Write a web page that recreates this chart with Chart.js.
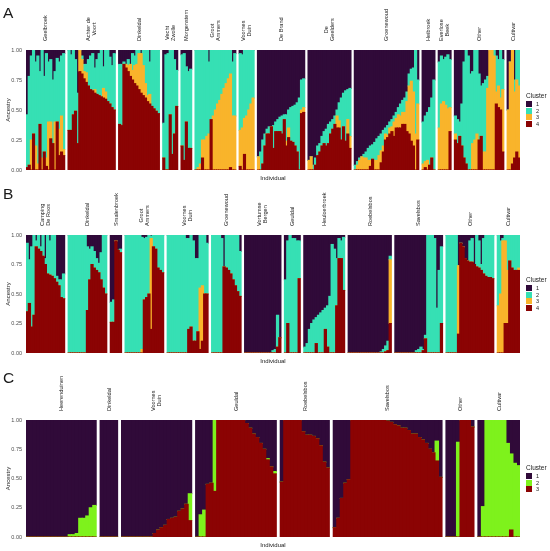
<!DOCTYPE html>
<html>
<head>
<meta charset="utf-8">
<script src="https://cdn.jsdelivr.net/npm/chart.js@4.4.1/dist/chart.umd.min.js"></script>
<style>
  body { margin: 0; background: #fff; }
  #wrap { position: relative; width: 550px; height: 551px; overflow: hidden; font-family: 'Liberation Sans', Arial, sans-serif; color: #1a1a1a; }
  canvas { position: absolute; left: 0; }
  .letter { position: absolute; left: 3px; font-size: 15.5px; line-height: 16px; }
  .pop { position: absolute; transform: rotate(-90deg); transform-origin: 0 0; white-space: nowrap; text-align: center; font-size: 5.6px; line-height: 6.4px; }
  .xlab { position: absolute; font-size: 6px; transform: translate(-50%, -50%); white-space: nowrap; }
  .legend { position: absolute; left: 526px; font-size: 5.5px; }
  .legend .title { font-size: 6.5px; height: 9px; line-height: 8px; }
  .legend .row { position: relative; height: 6.7px; }
  .legend .key { position: absolute; left: 0; top: 0; width: 6px; height: 6px; }
  .legend .lab { position: absolute; left: 10px; top: 0; line-height: 6px; }
</style>
</head>
<body>
<div id="wrap">
  <canvas id="chartA" width="550" height="185" style="top:0px"></canvas>
  <canvas id="chartB" width="550" height="183" style="top:185px"></canvas>
  <canvas id="chartC" width="550" height="183" style="top:368px"></canvas>
  <div class="letter" style="top:5px">A</div>
  <div class="letter" style="top:186px">B</div>
  <div class="letter" style="top:370px">C</div>
</div>
<script>
// ---- Panel A: K = 4 ----
const popsA = ['Geelbroek', ['Achter de', 'Voort'], 'Dinkeldal', ['Vecht', 'Zwolle'], 'Morgenstern',
  ['Groot', 'Ammers'], ['Voornes', 'Duin'], 'De Brand', ['De', 'Geelders'], 'Groenewoud', 'Heibroek',
  ['Everlose', 'Beek'], 'Other', 'Cultivar'];
const sizesA = [18, 22, 19, 7, 5, 19, 7, 22, 20, 30, 6, 6, 23, 6];

// ancestry (%) per individual, cluster 1 .. 4
const a1 = [
  54,22,5,0,10,5,18,0,22,3,10,8,25,18,7,10,5,3,
  0,4,0,8,36,0,5,12,12,8,5,3,15,8,3,0,14,0,0,6,13,3,
  12,12,10,12,8,12,3,5,0,0,3,0,0,0,10,0,0,0,0,
  61,4,3,0,0,8,17,
  4,3,14,18,16,
  0,0,0,0,0,0,10,0,0,0,0,0,0,0,0,0,0,10,3,
  3,4,0,0,0,0,0,
  89,85,75,70,66,64,64,63,60,58,56,55,54,54,50,48,47,46,44,40,25,24,
  92,89,96,90,80,78,72,68,66,62,60,58,55,50,44,40,36,34,33,32,
  96,93,90,89,87,85,82,80,79,77,74,72,70,67,65,63,60,58,55,52,48,45,42,40,35,20,16,15,0,25,
  60,55,52,48,40,25,
  10,5,8,6,4,8,
  55,58,60,45,10,0,5,20,18,0,0,20,30,28,25,22,0,0,0,5,8,0,8,
  50,10,0,25,0,0
];
const a2 = [
  44,74,70,70,70,90,44,90,63,87,50,52,53,42,53,56,50,80,
  67,63,54,43,42,0,3,6,7,22,28,31,18,29,35,39,18,35,43,39,35,47,
  50,51,2,0,5,0,14,8,12,3,0,13,28,38,27,47,49,51,53,
  29,96,97,54,87,62,30,
  76,89,46,64,66,
  100,98,95,75,75,72,60,58,55,50,45,42,37,32,28,24,20,45,52,
  64,61,57,55,50,45,40,
  0,15,20,10,4,6,0,19,8,10,12,15,4,22,15,28,30,34,41,60,25,24,
  0,0,4,6,8,7,8,10,14,16,10,8,7,5,15,35,28,42,25,40,
  4,3,2,0,3,5,10,12,12,15,18,16,14,13,5,8,5,6,5,5,6,10,10,12,8,10,10,20,70,20,
  35,38,40,48,50,75,
  55,40,35,40,45,40,
  15,20,12,35,80,95,95,80,60,75,70,55,42,57,60,10,0,0,5,30,22,40,25,
  0,0,0,10,25,30
];
const a3 = [
  0,0,25,0,20,5,0,10,0,7,40,14,0,40,0,22,30,5,
  0,0,0,0,0,18,12,6,8,0,0,0,3,0,0,0,8,6,0,0,0,0,
  0,0,0,3,5,10,8,15,18,30,33,25,12,5,8,0,0,0,0,
  0,0,0,0,0,0,0,
  0,0,0,0,0,
  0,2,5,15,25,28,30,0,45,50,55,58,63,68,72,76,78,45,45,
  30,35,30,45,50,55,60,
  11,0,0,0,0,0,0,0,0,0,0,0,0,4,8,0,0,0,0,0,3,4,
  8,11,0,0,0,0,0,0,0,0,0,0,0,10,6,0,0,0,12,10,
  0,4,8,11,10,10,8,5,0,8,8,12,10,5,5,2,5,4,12,8,11,10,10,10,25,40,50,45,30,30,
  5,5,8,0,0,0,
  35,55,57,54,51,20,
  5,0,0,0,0,0,0,0,22,25,30,0,0,15,15,68,100,100,95,10,18,10,52,
  50,90,95,55,60,60
];
const a4 = [
  2,4,0,30,0,0,38,0,15,3,0,26,22,0,40,12,15,12,
  33,33,46,49,22,82,80,76,73,70,67,66,64,63,62,61,60,59,57,55,52,50,
  38,37,88,85,82,78,75,72,70,67,64,62,60,57,55,53,51,49,47,
  10,0,0,46,13,30,53,
  20,8,40,18,18,
  0,0,0,10,0,0,0,42,0,0,0,0,0,0,0,0,2,0,0,
  3,0,13,0,0,0,0,
  0,0,5,20,30,30,36,18,32,32,32,30,42,20,27,24,23,20,15,0,47,48,
  0,0,0,4,12,15,20,22,20,22,30,34,38,35,35,25,36,24,30,18,
  0,0,0,0,0,0,0,3,9,0,0,0,6,15,25,27,30,32,28,35,35,35,38,38,32,30,24,20,0,25,
  0,2,0,4,10,0,
  0,0,0,0,0,32,
  25,22,28,20,10,5,0,0,0,0,0,25,28,0,0,0,0,0,0,55,52,50,15,
  0,0,5,10,15,10
];

// ---- Panel B: K = 4 ----
const popsB = [['Camping', 'De Roos'], 'Dinkeldal', 'Smalenbroek', ['Groot', 'Ammers'], ['Voornes', 'Duin'],
  'Groenewoud', ['Vortumse', 'Bergen'], 'Geuldal', 'Heuloerbroek', 'Roebelsbos', 'Savelsbos', 'Other', 'Cultivar'];
const sizesB = [17, 17, 5, 17, 18, 13, 16, 7, 18, 19, 21, 21, 10];

const b1 = [
  7,21,10,0,5,0,10,0,20,0,5,0,0,35,38,38,33,
  0,0,0,0,0,0,0,0,10,12,10,14,20,24,15,0,0,
  57,55,5,13,12,
  0,0,0,0,0,0,0,2,3,2,0,1,0,0,0,0,0,
  0,0,0,0,0,0,0,0,3,3,0,5,20,20,0,0,0,7,
  0,0,0,0,3,27,0,0,0,0,0,0,14,
  100,100,100,100,100,100,100,100,100,100,100,100,98,97,68,87,
  38,5,0,3,3,5,5,
  95,92,80,75,72,70,68,66,64,62,60,52,8,12,20,3,5,2,
  100,100,100,100,100,100,100,100,100,100,100,100,100,100,99,97,94,90,18,
  100,100,100,100,100,100,100,100,100,98,97,95,97,85,0,0,0,3,62,30,10,
  0,0,0,0,0,26,7,10,20,22,5,3,25,0,5,25,3,0,0,0,0,
  0,5,3,0,0,0,0,0,0,0
];
const b2 = [
  58,37,68,68,5,12,4,18,5,33,29,35,37,5,5,15,21,
  100,100,100,100,100,100,100,100,54,26,15,14,10,8,23,45,50,
  17,19,0,0,3,
  100,100,100,100,100,100,100,95,52,51,50,2,10,12,28,30,32,
  100,100,100,100,100,100,100,100,97,77,78,85,70,62,45,43,50,43,
  100,100,100,100,97,0,28,30,33,38,43,48,38,
  0,0,0,0,0,0,0,0,0,0,0,0,2,3,27,0,
  62,70,100,97,97,95,32,
  5,8,20,25,28,22,32,34,36,18,35,48,92,88,40,17,15,45,
  0,0,0,0,0,0,0,0,0,0,0,0,0,0,1,3,5,8,3,
  0,0,0,0,0,0,0,0,0,2,3,5,1,3,100,100,100,97,38,70,65,
  100,100,100,100,100,0,0,0,0,0,18,20,0,27,23,5,30,35,36,36,37,
  60,45,2,5,30,22,28,30,30,28
];
const b3 = [
  0,0,0,0,0,0,0,0,0,0,0,0,0,0,0,0,0,
  0,0,0,0,0,0,0,0,0,0,0,0,0,0,0,0,0,
  0,0,0,0,0,
  0,0,0,0,0,0,0,3,0,0,0,77,0,0,0,0,0,
  0,0,0,0,0,0,0,0,0,0,0,0,0,0,52,47,0,0,
  0,0,0,0,0,0,0,0,0,0,0,0,0,
  0,0,0,0,0,0,0,0,0,0,0,0,0,0,0,0,
  0,0,0,0,0,0,0,
  0,0,0,0,0,0,0,0,0,0,0,0,0,0,0,0,0,0,
  0,0,0,0,0,0,0,0,0,0,0,0,0,0,0,0,0,0,54,
  0,0,0,0,0,0,0,0,0,0,0,0,0,0,0,0,0,0,0,0,0,
  0,0,0,0,0,58,0,0,0,0,0,0,0,0,0,0,0,0,0,0,0,
  40,50,95,70,45,0,0,0,0,2
];
const b4 = [
  35,42,22,32,90,88,86,82,75,67,66,65,63,60,57,47,46,
  0,0,0,0,0,0,0,0,36,62,75,72,70,68,62,55,50,
  26,26,95,87,85,
  0,0,0,0,0,0,0,0,45,47,50,20,90,88,72,70,68,
  0,0,0,0,0,0,0,0,0,20,22,10,10,18,3,10,50,50,
  0,0,0,0,0,73,72,70,67,62,57,52,48,
  0,0,0,0,0,0,0,0,0,0,0,0,0,0,5,13,
  0,25,0,0,0,0,63,
  0,0,0,0,0,8,0,0,0,20,5,0,0,0,40,80,80,53,
  0,0,0,0,0,0,0,0,0,0,0,0,0,0,0,0,1,2,25,
  0,0,0,0,0,0,0,0,0,0,0,0,2,12,0,0,0,0,0,0,25,
  0,0,0,0,0,16,93,90,80,78,77,77,75,73,72,70,67,65,64,64,63,
  0,0,0,25,25,78,72,70,70,70
];

// ---- Panel C: K = 3 ----
const popsC = ['Heerenduinen', 'Dinkeldal', ['Voornes', 'Duin'], 'Geuldal', 'Roebelsbos', 'Savelsbos', 'Other', 'Cultivar'];
const sizesC = [20, 5, 20, 23, 14, 31, 8, 12];

const c1 = [
  100,100,100,100,100,100,100,100,100,100,100,100,98,98,97,84,84,82,75,73,
  100,100,100,100,100,
  100,100,100,100,100,100,100,100,100,97,94,92,90,85,84,83,78,76,72,63,
  100,81,77,55,54,0,0,0,0,0,0,0,0,0,3,7,12,15,20,25,33,40,44,
  53,0,0,0,0,0,10,13,13,14,16,22,36,41,
  92,84,67,54,51,0,0,0,0,0,0,0,0,0,0,1,2,4,5,7,7,9,12,12,15,17,20,25,28,18,49,
  100,100,100,19,0,0,0,6,
  100,74,0,0,0,0,0,0,20,29,37,39
];
const c2 = [
  0,0,0,0,0,0,0,0,0,0,0,0,2,2,3,16,16,18,25,27,
  0,0,0,0,0,
  0,0,0,0,0,0,0,0,0,0,0,0,0,0,0,0,0,0,0,23,
  0,19,23,0,0,61,0,0,0,0,0,0,0,0,0,0,0,0,0,0,1,0,2,
  0,0,0,0,0,0,0,0,0,0,0,0,0,0,
  0,0,0,0,0,0,0,0,0,0,0,0,0,0,0,0,0,0,0,0,0,0,0,0,0,0,0,0,0,17,0,
  0,0,0,81,0,0,0,0,
  0,26,100,100,100,100,100,100,80,65,63,61
];
const c3 = [
  0,0,0,0,0,0,0,0,0,0,0,0,0,0,0,0,0,0,0,0,
  0,0,0,0,0,
  0,0,0,0,0,0,0,0,0,3,6,8,10,15,16,17,22,24,28,14,
  0,0,0,45,46,39,100,100,100,100,100,100,100,100,97,93,88,85,80,75,66,60,54,
  47,100,100,100,100,100,90,87,87,86,84,78,64,59,
  8,16,33,46,49,100,100,100,100,100,100,100,100,100,100,99,98,96,95,93,93,91,88,88,85,83,80,75,72,65,51,
  0,0,0,0,100,100,100,94,
  0,0,0,0,0,0,0,0,0,6,0,0
];

const PURPLE = '#300a39', TEAL = '#36e0b4', ORANGE = '#f9b42b', RED = '#8b0303', GREEN = '#7ef21c';
const FONT = "'Liberation Sans', Arial, sans-serif";
const wrap = document.getElementById('wrap');

function buildPanel(id, top, padTop, padBottom, gap, pops, sizes, series, colors, names) {
  // series / colors go from the bottom of the stack to the top;
  // individuals sit one unit apart, populations are split by `gap` empty units
  const data = series.map(() => []);
  const ranges = [];
  let k = 0;
  let pos = 0;
  sizes.forEach((n, p) => {
    if (p > 0) pos += gap;
    ranges.push([pos, pos + n - 1]);
    for (let i = 0; i < n; i++) {
      series.forEach((s, c) => data[c].push({ x: pos, y: s[k] / 100 }));
      k++;
      pos++;
    }
  });
  const lastPos = pos - 1;

  const chart = new Chart(document.getElementById(id), {
    type: 'bar',
    data: {
      datasets: data.map((d, c) => ({
        label: names[c],
        data: d,
        backgroundColor: colors[c],
        borderWidth: 0,
        inflateAmount: 0.5,
        barPercentage: 1,
        categoryPercentage: 1
      }))
    },
    options: {
      responsive: false,
      animation: false,
      layout: { padding: { top: padTop, bottom: padBottom, left: 0, right: 30 } },
      plugins: { legend: { display: false }, tooltip: { enabled: false } },
      scales: {
        x: {
          type: 'linear',
          display: false,
          stacked: true,
          offset: false,
          min: -0.5,
          max: lastPos + 0.5
        },
        y: {
          stacked: true,
          min: 0,
          max: 1,
          grid: { display: false, drawTicks: false },
          border: { display: false },
          ticks: {
            stepSize: 0.25,
            padding: 4,
            color: '#4d4d4d',
            font: { size: 5.5, family: FONT },
            callback: v => v.toFixed(2)
          },
          title: {
            display: true,
            text: 'Ancestry',
            color: '#1a1a1a',
            font: { size: 6, family: FONT },
            padding: { top: 5, bottom: 0 }
          },
          afterFit: s => { s.width = 26; }
        }
      }
    }
  });

  const xs = chart.scales.x;
  const area = chart.chartArea;

  // population names above the bars
  ranges.forEach(([a, b], p) => {
    const lines = Array.isArray(pops[p]) ? pops[p] : [pops[p]];
    const cx = (xs.getPixelForValue(a) + xs.getPixelForValue(b)) / 2;
    const div = document.createElement('div');
    div.className = 'pop';
    lines.forEach((t, i) => {
      if (i) div.appendChild(document.createElement('br'));
      div.appendChild(document.createTextNode(t));
    });
    div.style.left = (cx - lines.length * 6.4 / 2) + 'px';
    div.style.top = (top + area.top - 9) + 'px';
    wrap.appendChild(div);
  });

  // x axis title
  const xl = document.createElement('div');
  xl.className = 'xlab';
  xl.textContent = 'Individual';
  xl.style.left = ((area.left + area.right) / 2) + 'px';
  xl.style.top = (top + area.bottom + 8) + 'px';
  wrap.appendChild(xl);

  // legend, cluster 1 on top
  const leg = document.createElement('div');
  leg.className = 'legend';
  const title = document.createElement('div');
  title.className = 'title';
  title.textContent = 'Cluster';
  leg.appendChild(title);
  for (let c = colors.length - 1; c >= 0; c--) {
    const row = document.createElement('div');
    row.className = 'row';
    const key = document.createElement('div');
    key.className = 'key';
    key.style.background = colors[c];
    const lab = document.createElement('div');
    lab.className = 'lab';
    lab.textContent = names[c];
    row.appendChild(key);
    row.appendChild(lab);
    leg.appendChild(row);
  }
  const legH = 9 + colors.length * 6.7;
  leg.style.top = (top + (area.top + area.bottom) / 2 - legH / 2) + 'px';
  wrap.appendChild(leg);
}

buildPanel('chartA', 0, 50, 15, 1.5, popsA, sizesA, [a4, a3, a2, a1], [RED, ORANGE, TEAL, PURPLE], ['4', '3', '2', '1']);
buildPanel('chartB', 185, 50, 15, 1.5, popsB, sizesB, [b4, b3, b2, b1], [RED, ORANGE, TEAL, PURPLE], ['4', '3', '2', '1']);
buildPanel('chartC', 368, 52, 14, 1.1, popsC, sizesC, [c3, c2, c1], [RED, GREEN, PURPLE], ['3', '2', '1']);
</script>
</body>
</html>
